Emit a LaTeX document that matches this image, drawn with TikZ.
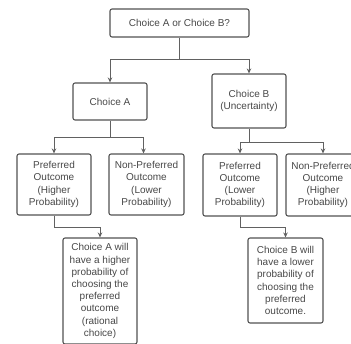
\documentclass[tikz,border=0pt]{standalone}
\usepackage{fontspec}
\setmainfont{Liberation Sans}
\usetikzlibrary{arrows.meta}

\tikzset{
  box/.style={draw=black!68, rounded corners=2pt, line width=1.1pt, align=center,
    text=black!72, font=\fontsize{10}{12.2}\selectfont, inner sep=0pt},
  conn/.style={draw=black!62, line width=1pt},
  arr/.style={conn, -{Stealth[length=5pt,width=4.5pt]}}
}

\begin{document}
\begin{tikzpicture}[x=1pt,y=-1pt]
\useasboundingbox (0,0) rectangle (351,343);
\clip (0,0) rectangle (351,343);

% question and the two choices
\node[box, minimum width=139pt, minimum height=28pt] (top) at (179.5,23) {Choice A or Choice B?};
\node[box, minimum width=74pt, minimum height=37pt] (choiceA) at (110,101.5) {Choice A};
\node[box, minimum width=74pt, minimum height=54pt] (choiceB) at (249,101) {Choice B\\(Uncertainty)};

% outcomes
\node[box, minimum width=74pt, minimum height=61pt] (prefA) at (54,184.5) {Preferred\\Outcome\\(Higher\\Probability)};
\node[box, minimum width=75pt, minimum height=61pt] (nonA) at (146.5,184.5) {Non-Preferred\\Outcome\\(Lower\\Probability)};
\node[box, minimum width=74pt, minimum height=62pt] (prefB) at (240,185) {Preferred\\Outcome\\(Lower\\Probability)};
\node[box, minimum width=74pt, minimum height=62pt] (nonB) at (323,185) {Non-Preferred\\Outcome\\(Higher\\Probability)};

% results
\node[box, minimum width=74pt, minimum height=106pt] (resA) at (100,291) {Choice A will\\have a higher\\probability of\\choosing the\\preferred\\outcome\\(rational\\choice)};
\node[box, minimum width=75pt, minimum height=85pt] (resB) at (285.5,280.5) {Choice B will\\have a lower\\probability of\\choosing the\\preferred\\outcome.};

% junctions
\coordinate (jTop) at (179.5,59);
\coordinate (jA) at (110,137);
\coordinate (jB) at (249,142);
\coordinate (jPA) at (54,227);
\coordinate (jPB) at (240,227);

\draw[conn] (top) -- (jTop);
\draw[arr] (jTop) -| (choiceA);
\draw[arr] (jTop) -| (choiceB);

\draw[conn] (choiceA) -- (jA);
\draw[arr] (jA) -| (prefA);
\draw[arr] (jA) -| ([xshift=-3pt]nonA.north);

\draw[conn] (choiceB) -- (jB);
\draw[arr] (jB) -| (prefB);
\draw[arr] (jB) -| (nonB);

\draw[arr] (prefA) -- (jPA) -| (resA);
\draw[arr] (prefB) -- (jPB) -| (resB);

\end{tikzpicture}
\end{document}
